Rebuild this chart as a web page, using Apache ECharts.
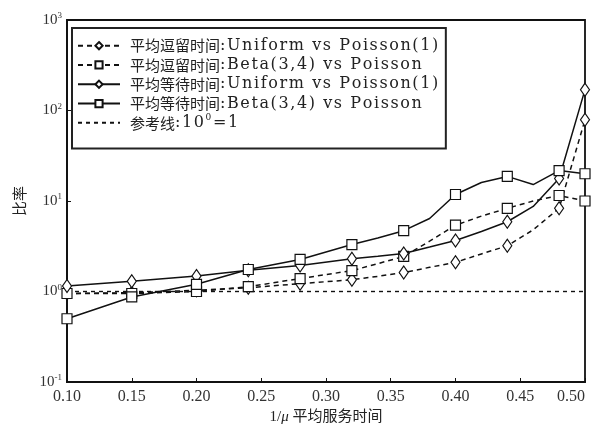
<!DOCTYPE html>
<html>
<head>
<meta charset="utf-8">
<script src="https://cdn.jsdelivr.net/npm/echarts@6/dist/echarts.min.js"></script>
<style>
html,body{margin:0;padding:0;background:#fff;}
#chart{width:593px;height:430px;}
</style>
</head>
<body>
<div id="chart"></div>
<script>
// x positions (1/mu mean service time)
var xValues = [0.10, 0.15, 0.20, 0.24, 0.28, 0.32, 0.34, 0.36, 0.38, 0.40, 0.42, 0.44, 0.46, 0.48, 0.50];
// whether a marker is drawn at that x
var markerShown = [true, true, true, true, true, true, false, true, false, true, false, true, false, true, true];

var seriesNames = [
  '平均逗留时间:Uniform vs Poisson(1)',
  '平均逗留时间:Beta(3,4) vs Poisson',
  '平均等待时间:Uniform vs Poisson(1)',
  '平均等待时间:Beta(3,4) vs Poisson',
  '参考线:10⁰=1'
];
var stayUniform = [0.95, 0.97, 1.03, 1.10, 1.22, 1.35, 1.47, 1.62, 1.85, 2.1, 2.6, 3.2, 4.8, 8.3, 79];
var stayBeta    = [0.95, 0.95, 1.00, 1.13, 1.39, 1.70, 2.03, 2.44, 3.6, 5.4, 6.8, 8.3, 10.0, 11.5, 10.0];
var waitUniform = [1.15, 1.30, 1.48, 1.72, 1.94, 2.30, 2.45, 2.63, 3.1, 3.66, 4.6, 5.9, 8.7, 17.7, 170];
var waitBeta    = [0.50, 0.87, 1.20, 1.75, 2.26, 3.30, 3.9, 4.7, 6.4, 11.8, 16.0, 18.7, 15.2, 21.7, 20.0];
var refLineX = [0.10, 0.50];
var refLineY = [1, 1];

var xTickLabels = ['0.10','0.15','0.20','0.25','0.30','0.35','0.40','0.45','0.50'];
var yTickLabels = {0.1:'-1', 1:'0', 10:'1', 100:'2', 1000:'3'};

var serif = "'Liberation Serif','Noto Sans CJK SC',serif";

function buildData(vals) {
  return xValues.map(function (x, i) {
    var item = { value: [x, vals[i]] };
    if (!markerShown[i]) item.symbol = 'none';
    return item;
  });
}

function lineSeries(name, vals, symbol, dashed) {
  return {
    name: name,
    type: 'line',
    data: buildData(vals),
    symbol: symbol,
    symbolSize: symbol === 'diamond' ? [9, 13] : 10,
    color: '#111',
    itemStyle: { color: '#fff', borderColor: '#111', borderWidth: 1.2 },
    lineStyle: { color: '#111', width: 1.5, type: dashed ? [5, 4] : 'solid' },
    z: dashed ? 3 : 4,
    animation: false
  };
}

// legend label: CJK part + wide-spaced Latin part (each char its own rich token)
function spaced(str) {
  var out = '';
  for (var i = 0; i < str.length; i++) out += '{l|' + str.charAt(i) + '}';
  return out;
}
function legendLabel(name) {
  var idx = name.indexOf(':');
  var cjk = name.slice(0, idx);
  var rest = name.slice(idx);
  if (rest.indexOf('10⁰') >= 0) {
    return '{c|' + cjk + '}' + spaced(':10') + '{s|0}' + spaced('=1');
  }
  return '{c|' + cjk + '}' + spaced(rest);
}

var chart = echarts.init(document.getElementById('chart'), null, { renderer: 'canvas' });
var option = {
  backgroundColor: '#fff',
  animation: false,
  grid: { left: 67, right: 8, top: 20, bottom: 48, show: true, borderColor: '#111', borderWidth: 1.8, backgroundColor: 'transparent', outerBoundsMode: 'none', containLabel: false },
  legend: {
    orient: 'vertical',
    left: 72,
    top: 28,
    data: seriesNames.map(function (n, i) {
      return i === 4 ? { name: n, itemStyle: { opacity: 0 } } : { name: n };
    }),
    itemWidth: 42,
    itemHeight: 9,
    itemGap: 0,
    padding: [8, 6, 16, 5],
    borderColor: '#222',
    borderWidth: 2,
    backgroundColor: '#fff',
    formatter: legendLabel,
    textStyle: {
      fontFamily: serif, fontSize: 16, color: '#222', lineHeight: 19.3,
      rich: {
        c: { fontFamily: "'Noto Sans CJK SC',serif", fontSize: 15, color: '#222', lineHeight: 19.3, padding: [0, 0, 0, 5] },
        l: { fontFamily: "'DejaVu Serif',serif", fontSize: 16, color: '#222', lineHeight: 19.3, padding: [0, 1.6, 0, 0] },
        s: { fontFamily: "'DejaVu Serif',serif", fontSize: 9, color: '#222', verticalAlign: 'top', lineHeight: 19.3, padding: [0, 1.6, 6, 0] }
      }
    },
    selectedMode: false
  },
  xAxis: {
    type: 'value',
    min: 0.10,
    max: 0.50,
    interval: 0.05,
    name: '1/{i|μ} 平均服务时间',
    nameLocation: 'middle',
    nameGap: 27,
    nameTextStyle: { fontFamily: serif, fontSize: 15, color: '#222', rich: { i: { fontFamily: serif, fontStyle: 'italic', fontSize: 15, color: '#222' } } },
    axisLine: { show: true, lineStyle: { color: '#111', width: 1.8 } },
    axisTick: { show: true, inside: true, length: 4, lineStyle: { color: '#111' } },
    axisLabel: {
      fontFamily: serif, fontSize: 16, color: '#333', margin: 7, alignMaxLabel: 'right',
      formatter: function (v) { var k = Math.round((v - 0.10) / 0.05); return xTickLabels[k] || ''; }
    },
    splitLine: { show: false }
  },
  yAxis: {
    type: 'log',
    logBase: 10,
    min: 0.1,
    max: 1000,
    name: '比率',
    nameLocation: 'middle',
    nameRotate: 90,
    nameGap: 36,
    nameTextStyle: { fontFamily: serif, fontSize: 15, color: '#222' },
    axisLine: { show: true, lineStyle: { color: '#111', width: 1.8 } },
    axisTick: { show: true, inside: true, length: 4, lineStyle: { color: '#111' } },
    minorTick: { show: false },
    axisLabel: {
      margin: 5,
      formatter: function (v) {
        var key = Math.abs(v - 0.1) < 1e-9 ? 0.1 : Math.round(v);
        return '{b|10}{s|' + yTickLabels[key] + '}';
      },
      rich: {
        b: { fontFamily: serif, fontSize: 15, color: '#333' },
        s: { fontFamily: serif, fontSize: 9, color: '#333', verticalAlign: 'top', padding: [0, 0, 8, 0] }
      }
    },
    splitLine: { show: false }
  },
  series: [
    lineSeries(seriesNames[0], stayUniform, 'diamond', true),
    lineSeries(seriesNames[1], stayBeta, 'rect', true),
    lineSeries(seriesNames[2], waitUniform, 'diamond', false),
    lineSeries(seriesNames[3], waitBeta, 'rect', false),
    {
      name: seriesNames[4],
      type: 'line',
      data: refLineX.map(function (x, i) { return [x, refLineY[i]]; }),
      symbol: 'none',
      color: '#111',
      lineStyle: { color: '#111', width: 1.4, type: [4, 4] },
      z: 2,
      animation: false
    }
  ]
};
chart.setOption(option);
</script>
</body>
</html>
